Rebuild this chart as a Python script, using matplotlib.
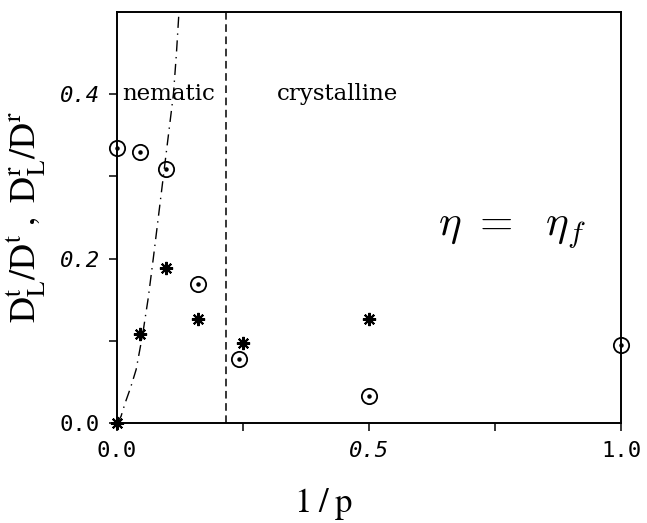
import matplotlib
matplotlib.use("Agg")
import matplotlib.pyplot as plt

plt.rcParams["mathtext.fontset"] = "stix"

# inverse persistence length 1/p and ratios for the two data sets
inv_p_rot = [0.0, 0.046, 0.097, 0.161, 0.243, 0.5, 1.0]
ratio_rot = [0.335, 0.330, 0.309, 0.169, 0.078, 0.033, 0.095]

inv_p_trans = [0.0, 0.046, 0.097, 0.161, 0.25, 0.5]
ratio_trans = [0.0, 0.108, 0.188, 0.127, 0.097, 0.127]

# nematic boundary curve
curve_x = [0.0, 0.008, 0.016, 0.027, 0.038, 0.051, 0.062, 0.072, 0.082, 0.092, 0.102, 0.112, 0.118, 0.123]
curve_y = [0.0, 0.008, 0.024, 0.043, 0.065, 0.108, 0.152, 0.200, 0.250, 0.300, 0.350, 0.400, 0.450, 0.500]

boundary_x = 0.216

xticks_major = [0.0, 0.5, 1.0]
xtick_labels = ["0.0", "0.5", "1.0"]
xticks_minor = [0.25, 0.75]
yticks_major = [0.0, 0.2, 0.4]
ytick_labels = ["0.0", "0.2", "0.4"]
yticks_minor = [0.1, 0.3]

fig = plt.figure(figsize=(6.47, 5.23), dpi=100)
ax = fig.add_axes([0.1808, 0.1912, 0.7790, 0.7858])
ax.set_xlim(0.0, 1.0)
ax.set_ylim(0.0, 0.5)

ax.plot(curve_x, curve_y, color="black", lw=1.0, linestyle=(0, (8, 4, 1, 4)))
ax.axvline(boundary_x, color="black", lw=1.1, linestyle=(0, (5, 3)))

ax.plot(inv_p_rot, ratio_rot, linestyle="none", marker="o", markersize=11,
        markerfacecolor="none", markeredgecolor="black", markeredgewidth=1.3, clip_on=False, zorder=5)
ax.plot(inv_p_rot, ratio_rot, linestyle="none", marker="o", markersize=2.2,
        color="black", clip_on=False, zorder=6)
ax.plot(inv_p_trans, ratio_trans, linestyle="none", marker=(8, 2, 0), markersize=9.5,
        color="black", markeredgewidth=1.5, clip_on=False, zorder=6)

ax.set_xticks(xticks_major)
ax.set_xticklabels(xtick_labels)
ax.set_xticks(xticks_minor, minor=True)
ax.set_yticks(yticks_major)
ax.set_yticklabels(ytick_labels)
ax.set_yticks(yticks_minor, minor=True)
ax.tick_params(which="both", direction="out", length=6, width=1.1, color="black")
ax.tick_params(axis="x", pad=7)
ax.tick_params(axis="y", pad=6.5)
for lab in ax.get_xticklabels() + ax.get_yticklabels():
    lab.set_fontfamily("DejaVu Sans Mono")
    lab.set_fontsize(16)
    if lab.get_text() in ("0.0", "1.0"):
        lab.set_fontstyle("normal")
    else:
        lab.set_fontstyle("oblique")

for sp in ax.spines.values():
    sp.set_linewidth(1.4)

ax.text(0.010, 0.4, "nematic", family="DejaVu Serif", fontsize=16.5, va="center", ha="left")
ax.text(0.318, 0.4, "crystalline", family="DejaVu Serif", fontsize=16.5, va="center", ha="left")
ax.text(0.636, 0.235, r"$\eta\ =\ \ \eta_f$", fontsize=31, va="center", ha="left",
        math_fontfamily="cm")

ax.set_xlabel(r"$\mathrm{1\;/\;p}$", fontsize=25, labelpad=18, x=0.41)
ax.set_ylabel(r"$\mathrm{D_L^t/D^t\ ,\ D_L^r/D^r}$", fontsize=26, labelpad=8)

fig.savefig("out.png", dpi=100)
